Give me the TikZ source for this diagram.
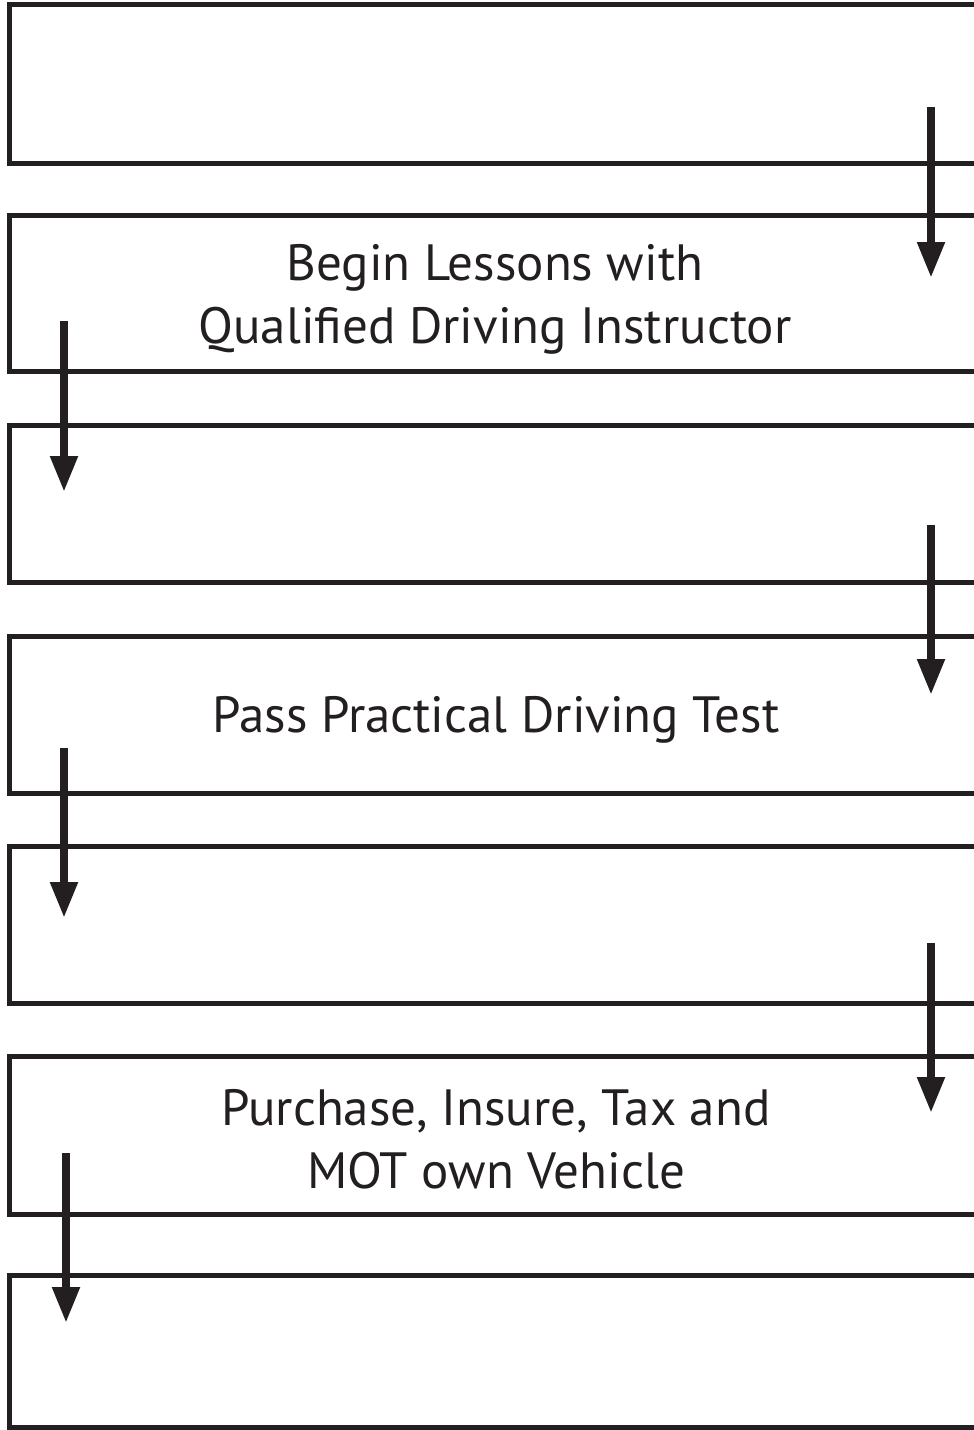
\documentclass[tikz,border=0pt]{standalone}
\usepackage{fontspec}
\setmainfont{PT Sans}
\usetikzlibrary{arrows.meta}
\definecolor{ink}{HTML}{231F20}
\tikzset{
  outline/.style={draw=ink, line width=5pt, line join=miter},
  flowarrow/.style={draw=ink, line width=8pt, -{Triangle[length=36pt,width=26pt]}},
  label/.style={text=ink, font=\fontsize{51}{63}\selectfont, align=center, inner sep=0pt}
}
\begin{document}
\begin{tikzpicture}[x=1pt,y=-1pt]
\fill[white] (0,0) rectangle (974,1430);
\useasboundingbox (0,0) rectangle (974,1430);
% boxes (open on the right)
\foreach \t/\b in {4.5/163.5, 215/371.5, 425.5/582, 636/793, 846.5/1003.5, 1056/1214, 1275/1427.5}{
  \draw[outline] (976,\t) -- (9.5,\t) -- (9.5,\b) -- (976,\b);
}
% texts
\node[label] (t1) at (495,299) {Begin Lessons with\\Qualified Driving Instructor};
\node[label] (t2) at (496,720) {Pass Practical Driving Test};
\node[label] (t3) at (496,1139) {Purchase, Insure, Tax and\\MOT own Vehicle};
% arrow end points
\coordinate (a1s) at (931,107);  \coordinate (a1e) at (931,278);
\coordinate (a2s) at (64,321);   \coordinate (a2e) at (64,492);
\coordinate (a3s) at (931,525);  \coordinate (a3e) at (931,695);
\coordinate (a4s) at (64,748);   \coordinate (a4e) at (64,918);
\coordinate (a5s) at (931,943);  \coordinate (a5e) at (931,1113);
\coordinate (a6s) at (66,1153);  \coordinate (a6e) at (66,1323);
\draw[flowarrow] (a1s) -- (a1e);
\draw[flowarrow] (a2s) -- (a2e);
\draw[flowarrow] (a3s) -- (a3e);
\draw[flowarrow] (a4s) -- (a4e);
\draw[flowarrow] (a5s) -- (a5e);
\draw[flowarrow] (a6s) -- (a6e);
\end{tikzpicture}
\end{document}
